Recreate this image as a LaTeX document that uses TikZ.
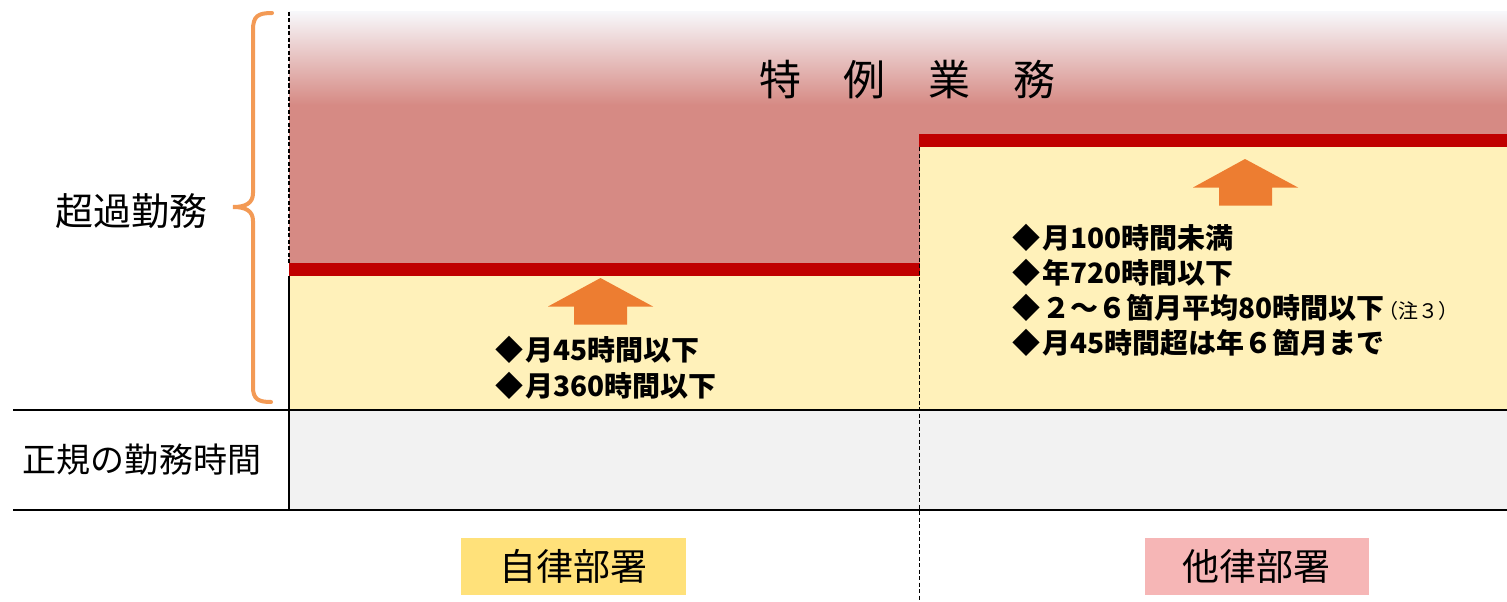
\documentclass[tikz,border=0pt]{standalone}
\usepackage{fontspec}
\setmainfont{Noto Sans CJK JP}
\newfontfamily\jp{Noto Sans CJK JP}
\definecolor{pinkc}{HTML}{D68A84}
\definecolor{topc}{HTML}{F7F7FA}
\definecolor{yellowc}{HTML}{FFF1BA}
\definecolor{redc}{HTML}{C00000}
\definecolor{grayc}{HTML}{F2F2F2}
\definecolor{labyellow}{HTML}{FFE17A}
\definecolor{labpink}{HTML}{F6B6B6}
\definecolor{arrowc}{HTML}{ED7D31}
\definecolor{bracec}{HTML}{F39A55}
\begin{document}
\begin{tikzpicture}[x=1pt,y=-1pt,
  txt/.style={inner sep=0pt, font=\jp\fontsize{#1}{#1}\selectfont},
  listtxt/.style={inner sep=0pt, anchor=west, font=\jp\bfseries\fontsize{28}{28}\selectfont},
  rule/.style={draw=black, line width=2pt},
  dashline/.style={draw=black, line width=1.6pt, dash pattern=on 4pt off 2.5pt},
  blockarrow/.style={fill=arrowc}]
\useasboundingbox (0,0) rectangle (1507,602);
% background bands
\shade[top color=topc, bottom color=pinkc] (289,12) rectangle (1507,105);
\fill[pinkc] (289,104.5) rectangle (1507,410);
\fill[yellowc] (289,276) rectangle (920,410);
\fill[yellowc] (920,147) rectangle (1507,410);
\fill[redc] (289,263) rectangle (920,276);
\fill[redc] (919,134) rectangle (1507,147);
\fill[grayc] (289,410) rectangle (1507,510);
% lines
\coordinate (h1a) at (13,410); \coordinate (h1b) at (1507,410);
\coordinate (h2a) at (13,510); \coordinate (h2b) at (1507,510);
\draw[rule] (h1a) -- (h1b);
\draw[rule] (h2a) -- (h2b);
\coordinate (v1top) at (289,12); \coordinate (v1dash) at (289,263);
\coordinate (v1mid) at (289,276); \coordinate (v1bot) at (289,510);
\draw[dashline] (v1top) -- (v1dash);
\draw[rule] (v1mid) -- (v1bot);
\coordinate (v2top) at (919.5,147); \coordinate (v2bot) at (919.5,602);
\draw[dashline] (v2top) -- (v2bot);
% brace
\draw[bracec, line width=4pt, line cap=round]
  (272,13) .. controls (258,13) and (253,16) .. (253,30) -- (253,193)
  .. controls (253,203) and (246,207) .. (233,207)
  .. controls (246,207) and (253,211) .. (253,221) -- (253,387)
  .. controls (253,399) and (258,402) .. (271,402);
% block arrows
\fill[blockarrow] (600.5,278) -- (653,306.5) -- (627,306.5) -- (627,324.5) -- (574,324.5) -- (574,306.5) -- (548,306.5) -- cycle;
\fill[blockarrow] (1245,159) -- (1298,187.5) -- (1272,187.5) -- (1272,205.5) -- (1219,205.5) -- (1219,187.5) -- (1193,187.5) -- cycle;
% texts
\node[txt=42] (title) at (907.5,80) {特\hspace{43pt}例\hspace{43pt}業\hspace{43pt}務};
\node[txt=38] (overtime) at (131,211) {超過勤務};
\node[txt=34] (regular) at (142,460) {正規の勤務時間};
\node[txt=37, fill=labyellow, minimum width=225pt, minimum height=57pt] (auto) at (573.5,566.5) {自律部署};
\node[txt=37, fill=labpink, minimum width=224pt, minimum height=57pt] (hetero) at (1256.5,566.5) {他律部署};
\node[listtxt] (l1) at (495,350) {◆\hspace{2pt}月45時間以下};
\node[listtxt] (l2) at (495,386) {◆\hspace{2pt}月360時間以下};
\node[listtxt] (r1) at (1012,238) {◆\hspace{2pt}月100時間未満};
\node[listtxt] (r2) at (1012,273) {◆\hspace{2pt}年720時間以下};
\node[listtxt] (r3) at (1012,308) {◆\hspace{2pt}２～６箇月平均80時間以下{\mdseries\fontsize{20}{20}\selectfont\hspace{-6pt}（注３）}};
\node[listtxt] (r4) at (1012,343) {◆\hspace{2pt}月45時間超は年６箇月まで};
\end{tikzpicture}
\end{document}
